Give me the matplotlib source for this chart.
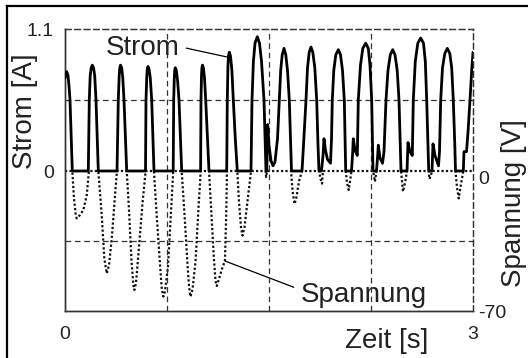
import matplotlib
matplotlib.use("Agg")
import matplotlib.pyplot as plt
from matplotlib.lines import Line2D

plt.rcParams['font.family'] = ['Liberation Sans', 'DejaVu Sans']

# ---- data ----
strom_t = [0.000, 0.0125, 0.0221, 0.0294, 0.0368, 0.0463, 0.0537,
           0.1713, 0.1787, 0.1853, 0.1926, 0.2007, 0.2096, 0.2184, 0.2279, 0.2375, 0.2449,
           0.3824, 0.3919, 0.3985, 0.4029, 0.4081, 0.4169, 0.4250, 0.4338, 0.4449, 0.4537,
           0.5919, 0.5956, 0.6015, 0.6051, 0.6103, 0.6176, 0.6272, 0.6375, 0.6471, 0.6544,
           0.7956, 0.7993, 0.8037, 0.8066, 0.8110, 0.8184, 0.8279, 0.8382, 0.8493, 0.8581,
           0.9971, 1.0000, 1.0037, 1.0066, 1.0110, 1.0176, 1.0257, 1.0346, 1.0478, 1.0588,
           1.1890, 1.1934, 1.1978, 1.2015, 1.2081, 1.2169, 1.2272, 1.2375, 1.2522, 1.2669,
           1.3676, 1.3750, 1.3853, 1.3971, 1.4140, 1.4301, 1.4449, 1.4632, 1.4728, 1.4779,
           1.4838, 1.4904, 1.5000, 1.5147, 1.5294, 1.5441, 1.5625, 1.5757, 1.5860, 1.5971,
           1.6103, 1.6235, 1.6360, 1.6493, 1.6596, 1.6654,
           1.7426, 1.7537, 1.7721, 1.7831, 1.7956, 1.8088, 1.8221, 1.8368, 1.8507, 1.8603, 1.8676,
           1.8860, 1.8971, 1.9044, 1.9154, 1.9301, 1.9522, 1.9596, 1.9654, 1.9765, 1.9912,
           2.0096, 2.0257, 2.0404, 2.0537, 2.0603, 2.0640,
           2.1066, 2.1140, 2.1199, 2.1324, 2.1493, 2.1566, 2.1728, 2.1897, 2.2110, 2.2301,
           2.2426, 2.2551, 2.2610, 2.2647,
           2.2904, 2.2978, 2.3037, 2.3162, 2.3346, 2.3456, 2.3603, 2.3750, 2.3919, 2.4096,
           2.4265, 2.4426, 2.4559, 2.4654, 2.4706,
           2.5147, 2.5184, 2.5221, 2.5368, 2.5537, 2.5610, 2.5757, 2.5941, 2.6154, 2.6360,
           2.6493, 2.6596, 2.6691, 2.6743,
           2.6985, 2.7022, 2.7059, 2.7206, 2.7463, 2.7537, 2.7625, 2.7757, 2.7926, 2.8110,
           2.8294, 2.8434, 2.8551, 2.8662, 2.8713,
           2.9287, 2.9338, 2.9522, 2.9632, 2.9779, 2.9904, 3.0000]
strom_a = [0.72, 0.77, 0.74, 0.66, 0.55, 0.25, 0.0,
           0.0, 0.55, 0.74, 0.80, 0.82, 0.80, 0.74, 0.55, 0.25, 0.0,
           0.0, 0.55, 0.74, 0.80, 0.82, 0.80, 0.72, 0.55, 0.25, 0.0,
           0.0, 0.55, 0.74, 0.79, 0.81, 0.79, 0.72, 0.55, 0.25, 0.0,
           0.0, 0.55, 0.72, 0.78, 0.80, 0.78, 0.70, 0.55, 0.25, 0.0,
           0.0, 0.55, 0.74, 0.80, 0.82, 0.80, 0.72, 0.55, 0.25, 0.0,
           0.0, 0.55, 0.80, 0.89, 0.92, 0.89, 0.78, 0.55, 0.25, 0.0,
           0.0, 0.55, 0.85, 0.99, 1.04, 0.99, 0.85, 0.55, 0.20, 0.0,
           0.0, 0.36, 0.20, 0.08, 0.04, 0.07, 0.25, 0.55, 0.78, 0.90,
           0.95, 0.90, 0.78, 0.55, 0.20, 0.0,
           0.0, 0.20, 0.55, 0.80, 0.92, 0.96, 0.92, 0.80, 0.55, 0.20, 0.0,
           0.0, 0.12, 0.25, 0.16, 0.09, 0.06, 0.25, 0.55, 0.78, 0.90,
           0.94, 0.90, 0.78, 0.55, 0.20, 0.0,
           0.0, 0.12, 0.25, 0.16, 0.12, 0.55, 0.82, 0.95, 0.99, 0.95,
           0.82, 0.55, 0.20, 0.0,
           0.0, 0.10, 0.20, 0.10, 0.06, 0.15, 0.55, 0.78, 0.90, 0.94,
           0.90, 0.78, 0.55, 0.20, 0.0,
           0.0, 0.10, 0.22, 0.15, 0.12, 0.55, 0.85, 0.99, 1.03, 0.99,
           0.85, 0.55, 0.20, 0.0,
           0.0, 0.10, 0.21, 0.12, 0.04, 0.15, 0.55, 0.80, 0.91, 0.95,
           0.91, 0.80, 0.55, 0.20, 0.0,
           0.0, 0.15, 0.15, 0.30, 0.55, 0.78, 0.92]

spannung_t = [0.000, 0.054, 0.066, 0.079, 0.086, 0.110, 0.135, 0.160, 0.171, 0.176,
              0.245, 0.270, 0.289, 0.307, 0.324, 0.346, 0.368, 0.382,
              0.454, 0.471, 0.489, 0.503, 0.510, 0.522, 0.544, 0.570, 0.593,
              0.654, 0.674, 0.699, 0.711, 0.723, 0.735, 0.757, 0.785, 0.796,
              0.858, 0.879, 0.901, 0.912, 0.923, 0.938, 0.960, 0.982, 0.998,
              1.059, 1.077, 1.096, 1.107, 1.116, 1.132, 1.154, 1.176, 1.186, 1.191,
              1.267, 1.279, 1.294, 1.305, 1.320, 1.342, 1.368,
              1.474, 1.479, 1.485,
              1.662, 1.673, 1.688, 1.702, 1.721, 1.743,
              1.868, 1.879, 1.890, 1.897,
              2.064, 2.074, 2.086, 2.096, 2.107,
              2.265, 2.279, 2.290,
              2.471, 2.485, 2.500, 2.515,
              2.674, 2.680, 2.691, 2.699,
              2.871, 2.882, 2.895, 2.908, 2.929, 3.000]
spannung_v = [0.0, 0.0, -13.7, -22.0, -23.7, -22.0, -19.5, -12.0, -3.7, 0.0,
              0.0, -22.0, -43.7, -51.2, -47.0, -32.0, -12.0, 0.0,
              0.0, -20.0, -45.0, -57.0, -59.5, -56.0, -38.0, -16.0, 0.0,
              0.0, -22.0, -47.0, -58.5, -62.8, -60.3, -48.0, -13.5, 0.0,
              0.0, -22.0, -47.0, -58.0, -62.8, -59.0, -45.0, -18.0, 0.0,
              0.0, -22.0, -45.0, -55.0, -57.5, -54.0, -49.0, -45.0, -20.0, 0.0,
              0.0, -15.0, -28.0, -32.3, -28.0, -15.0, 0.0,
              0.0, -3.0, 0.0,
              0.0, -10.0, -16.5, -13.0, -5.0, 0.0,
              0.0, -4.0, -6.3, 0.0,
              0.0, -6.0, -9.5, -5.0, 0.0,
              0.0, -5.3, 0.0,
              0.0, -10.3, -6.0, 0.0,
              0.0, -4.0, -2.0, 0.0,
              0.0, -8.0, -13.7, -8.0, 0.0, 0.0]

x_ticks = [0, 3]
x_ticklabels = ["0", "3"]
strom_ticks = [0, 1.1]
strom_ticklabels = ["0", "1.1"]
spannung_ticks = [0, -70]
spannung_ticklabels = ["0", "-70"]
grid_t = [0.75, 1.5, 2.25]
grid_strom = [0.55]
grid_spannung = [-35]

# ---- figure ----
W, H = 528, 358
fig = plt.figure(figsize=(W / 100, H / 100), dpi=100)
L, R, T, B = 65, 473, 29, 311
ax = fig.add_axes([L / W, 1 - B / H, (R - L) / W, (B - T) / H])
ax2 = ax.twinx()

ax.set_xlim(0, 3)
ax.set_ylim(-1.1 * 140 / 142, 1.1)
ax2.set_ylim(-70, 71)

gc = '#333333'
dash = (0, (4.5, 3))
for g in grid_t:
    ax.axvline(g, color=gc, lw=0.9, linestyle=dash, zorder=1)
for g in grid_strom:
    ax.axhline(g, color=gc, lw=0.9, linestyle=dash, zorder=1)
for g in grid_spannung:
    ax2.axhline(g, color=gc, lw=0.9, linestyle=dash, zorder=1)

ax2.plot(spannung_t, spannung_v, color='#111111', lw=1.6, linestyle=(0, (1, 1)), zorder=2)
ax.plot(strom_t, strom_a, color='black', lw=2.0, zorder=3,
        solid_joinstyle='round', solid_capstyle='round')
ax.set_zorder(ax2.get_zorder() + 1)
ax.patch.set_visible(False)

for a in (ax, ax2):
    a.spines['left'].set_color(gc)
    a.spines['bottom'].set_color(gc)
    a.spines['left'].set_linewidth(1.0)
    a.spines['bottom'].set_linewidth(1.0)
    a.spines['top'].set_linestyle(dash)
    a.spines['right'].set_linestyle(dash)
    a.spines['top'].set_color(gc)
    a.spines['right'].set_color(gc)
    a.spines['top'].set_linewidth(0.9)
    a.spines['right'].set_linewidth(0.9)

tc = '#222222'
ax.set_xticks(x_ticks)
ax.set_xticklabels(x_ticklabels)
ax.set_yticks(strom_ticks)
ax.set_yticklabels(strom_ticklabels)
ax.tick_params(axis='both', length=0, labelsize=14, colors=tc)
ax.tick_params(axis='y', pad=8)
ax.tick_params(axis='x', pad=11)
ax2.set_yticks(spannung_ticks)
ax2.set_yticklabels(spannung_ticklabels)
ax2.tick_params(axis='y', length=0, labelsize=14, colors=tc, pad=4)
for lbl in ax2.get_yticklabels():
    if lbl.get_text() == "0":
        lbl.set_va('top')

fs = 20
fig.text(25 / W, 1 - 111 / H, "Strom [A]", rotation=90, ha='center', va='center', fontsize=fs, color=tc)
fig.text(514 / W, 1 - 203 / H, "Spannung [V]", rotation=90, ha='center', va='center', fontsize=fs, color=tc)
fig.text(387 / W, 1 - 341 / H, "Zeit [s]", ha='center', va='center', fontsize=fs, color=tc)

ax.annotate("Strom", xy=(1.188, 0.884), xytext=(0.570, 0.899), ha='center', va='baseline',
            fontsize=fs, color=tc,
            arrowprops=dict(arrowstyle='-', color='black', lw=0.9, shrinkA=3, shrinkB=0,
                            relpos=(1.0, 0.55)))
ax2.annotate("Spannung", xy=(1.176, -45), xytext=(2.195, -65.5), ha='center', va='baseline',
             fontsize=fs, color=tc,
             arrowprops=dict(arrowstyle='-', color='black', lw=0.9, shrinkA=3, shrinkB=0,
                             relpos=(0.0, 0.7)))

# outer frame (left and top edges visible)
fig.add_artist(Line2D([7 / W, 7 / W], [0, 1 - 6 / H], transform=fig.transFigure, color='black', lw=1.6))
fig.add_artist(Line2D([7 / W, 1], [1 - 6 / H, 1 - 6 / H], transform=fig.transFigure, color='black', lw=1.6))

fig.savefig("out.png", dpi=100)
